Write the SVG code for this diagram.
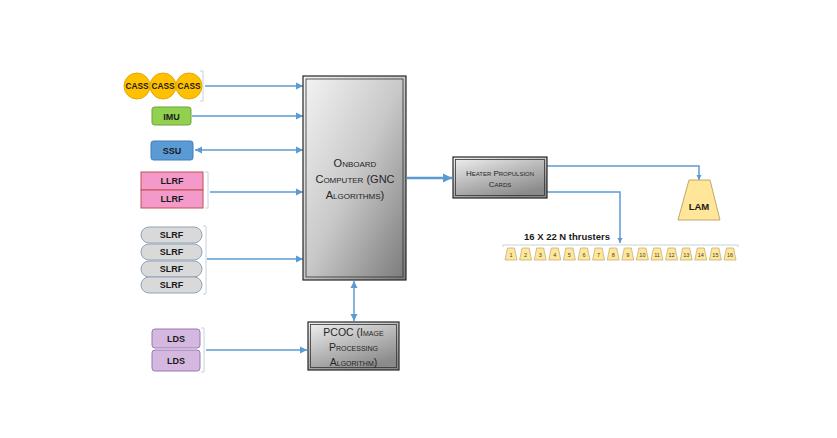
<svg xmlns="http://www.w3.org/2000/svg" width="837" height="438" viewBox="0 0 837 438">
<defs>
<marker id="ah" markerUnits="userSpaceOnUse" markerWidth="8" markerHeight="8" refX="7" refY="4" orient="auto-start-reverse"><path d="M0,0.5 L7,4 L0,7.5 Z" fill="#5B9BD5"/></marker>
<marker id="ahb" markerUnits="userSpaceOnUse" markerWidth="10" markerHeight="10" refX="9" refY="5" orient="auto"><path d="M0,0.5 L9,5 L0,9.5 Z" fill="#5B9BD5"/></marker>
<marker id="ahs" markerUnits="userSpaceOnUse" markerWidth="6" markerHeight="6" refX="5" refY="3" orient="auto-start-reverse"><path d="M0,0.5 L5,3 L0,5.5 Z" fill="#5B9BD5"/></marker>
<linearGradient id="gbox" x1="0" y1="0" x2="1" y2="1"><stop offset="0" stop-color="#F4F4F4"/><stop offset="0.5" stop-color="#C8C8C8"/><stop offset="1" stop-color="#7A7A7A"/></linearGradient>
<linearGradient id="gsm" x1="0" y1="0" x2="0.6" y2="1"><stop offset="0" stop-color="#F2F2F2"/><stop offset="0.5" stop-color="#BDBDBD"/><stop offset="1" stop-color="#8A8A8A"/></linearGradient>
</defs>
<style>
.conn{fill:none;stroke:#5B9BD5;stroke-width:1.5}
.br{fill:none;stroke:#C8D2DC;stroke-width:1}
.lbl{font-family:"Liberation Sans",Arial,sans-serif;font-weight:bold;font-size:9px;fill:#1A1A1A;text-anchor:middle}
.sc{font-family:"Liberation Sans",Arial,sans-serif;font-variant:small-caps;fill:#262626;text-anchor:middle}
.thr{fill:#FFE699;stroke:#BFA76F;stroke-width:0.7}
.num{font-family:"Liberation Sans",Arial,sans-serif;font-size:5.5px;fill:#404040;text-anchor:middle}
</style>
<rect width="837" height="438" fill="#FFFFFF"/>

<g id="connectors">
<path class="conn" d="M205,86 H303" marker-end="url(#ah)"/>
<path class="conn" d="M192,116 H303" marker-end="url(#ah)"/>
<path class="conn" d="M195,150 H303" marker-start="url(#ah)" marker-end="url(#ah)"/>
<path class="conn" d="M210,192 H303" marker-end="url(#ah)"/>
<path class="conn" d="M207,259 H303" marker-end="url(#ah)"/>
<path class="conn" d="M206,350 H307" marker-end="url(#ah)"/>
<path class="conn" d="M354,281 V321" marker-start="url(#ah)" marker-end="url(#ah)"/>
<path class="conn" style="stroke-width:2.5" d="M407,178 H452" marker-end="url(#ahb)"/>
<path class="conn" d="M547,166 H699 V180" marker-end="url(#ahs)"/>
<path class="conn" d="M547,192 H620 V243" marker-end="url(#ahs)"/>
</g>

<g id="cass">
<circle cx="137" cy="86" r="13" fill="#FFC000" stroke="#E6A800"/>
<circle cx="163" cy="86" r="13" fill="#FFC000" stroke="#E6A800"/>
<circle cx="189" cy="86" r="13" fill="#FFC000" stroke="#E6A800"/>
<text class="lbl" x="137" y="89" style="font-size:8.3px">CASS</text>
<text class="lbl" x="163" y="89" style="font-size:8.3px">CASS</text>
<text class="lbl" x="189" y="89" style="font-size:8.3px">CASS</text>
<path class="br" d="M200,71 H203 V101 H200"/>
</g>

<g id="imu">
<rect x="152" y="107" width="39" height="18" rx="2.5" fill="#92D050" stroke="#6FA33A"/>
<text class="lbl" x="171.5" y="119.5">IMU</text>
</g>

<g id="ssu">
<rect x="151" y="141" width="42" height="19" rx="2.5" fill="#5B9BD5" stroke="#3F7DB8"/>
<text class="lbl" x="172" y="153.5">SSU</text>
</g>

<g id="llrf">
<rect x="141" y="172" width="62" height="18" fill="#F49ACB" stroke="#C0504D"/>
<rect x="141" y="190" width="62" height="18" fill="#F49ACB" stroke="#C0504D"/>
<text class="lbl" x="172" y="184">LLRF</text>
<text class="lbl" x="172" y="202">LLRF</text>
<path class="br" d="M205,172 H208 V208 H205"/>
</g>

<g id="slrf">
<rect x="141" y="227" width="61" height="16" rx="8" fill="#D9D9D9" stroke="#8EA3B8"/>
<rect x="141" y="244" width="61" height="16" rx="8" fill="#D9D9D9" stroke="#8EA3B8"/>
<rect x="141" y="261" width="61" height="16" rx="8" fill="#D9D9D9" stroke="#8EA3B8"/>
<rect x="141" y="277" width="61" height="16" rx="8" fill="#D9D9D9" stroke="#8EA3B8"/>
<text class="lbl" x="171.5" y="238">SLRF</text>
<text class="lbl" x="171.5" y="255">SLRF</text>
<text class="lbl" x="171.5" y="272">SLRF</text>
<text class="lbl" x="171.5" y="288">SLRF</text>
<path class="br" d="M203,226 H206 V294 H203"/>
</g>

<g id="lds">
<rect x="152" y="329" width="48" height="19" rx="3" fill="#D5B8E0" stroke="#9A76B5"/>
<rect x="152" y="350" width="48" height="21" rx="3" fill="#D5B8E0" stroke="#9A76B5"/>
<text class="lbl" x="176" y="341.5">LDS</text>
<text class="lbl" x="176" y="363.5">LDS</text>
<path class="br" d="M201,328 H204 V372 H201"/>
</g>

<g id="onboard">
<rect x="303" y="76" width="103" height="204" fill="url(#gbox)" stroke="#262626" stroke-width="1.2"/>
<rect x="306" y="79" width="97" height="198" fill="none" stroke="#333333" stroke-width="0.8"/>
<text class="sc" x="355" y="167" style="font-size:11px">Onboard</text>
<text class="sc" x="355" y="183" style="font-size:11px">Computer (GNC</text>
<text class="sc" x="355" y="199" style="font-size:11px">Algorithms)</text>
</g>

<g id="pcoc">
<rect x="308" y="322" width="91" height="48" fill="url(#gsm)" stroke="#262626" stroke-width="1.2"/>
<rect x="310.5" y="324.5" width="86" height="43" fill="none" stroke="#333333" stroke-width="0.8"/>
<text class="sc" x="353.5" y="336" style="font-size:10.5px">PCOC (Image</text>
<text class="sc" x="353.5" y="351" style="font-size:10.5px">Processing</text>
<text class="sc" x="353.5" y="366" style="font-size:10.5px">Algorithm)</text>
</g>

<g id="heater">
<rect x="453" y="157" width="94" height="41" fill="url(#gsm)" stroke="#262626" stroke-width="1.2"/>
<rect x="455.5" y="159.5" width="89" height="36" fill="none" stroke="#333333" stroke-width="0.8"/>
<text class="sc" x="500" y="176" style="font-size:8px">Heater Propulsion</text>
<text class="sc" x="500" y="187" style="font-size:8px">Cards</text>
</g>

<g id="lam">
<path d="M689,180 H710 L720,220 H678 Z" fill="#FFE699" stroke="#BFA76F"/>
<text class="lbl" x="699" y="210" style="font-size:9.5px">LAM</text>
</g>

<g id="thrusters">
<text class="lbl" x="567" y="240" style="font-size:9.5px">16 X 22 N thrusters</text>
<path class="br" d="M503,247 V245 H738 V247"/>
<g transform="translate(505,0)">
<path class="thr" d="M0,260 L2.5,248 H9.5 L12,260 Z"/><text class="num" x="6" y="257">1</text>
<g transform="translate(14.6,0)"><path class="thr" d="M0,260 L2.5,248 H9.5 L12,260 Z"/><text class="num" x="6" y="257">2</text></g>
<g transform="translate(29.2,0)"><path class="thr" d="M0,260 L2.5,248 H9.5 L12,260 Z"/><text class="num" x="6" y="257">3</text></g>
<g transform="translate(43.8,0)"><path class="thr" d="M0,260 L2.5,248 H9.5 L12,260 Z"/><text class="num" x="6" y="257">4</text></g>
<g transform="translate(58.4,0)"><path class="thr" d="M0,260 L2.5,248 H9.5 L12,260 Z"/><text class="num" x="6" y="257">5</text></g>
<g transform="translate(73,0)"><path class="thr" d="M0,260 L2.5,248 H9.5 L12,260 Z"/><text class="num" x="6" y="257">6</text></g>
<g transform="translate(87.6,0)"><path class="thr" d="M0,260 L2.5,248 H9.5 L12,260 Z"/><text class="num" x="6" y="257">7</text></g>
<g transform="translate(102.2,0)"><path class="thr" d="M0,260 L2.5,248 H9.5 L12,260 Z"/><text class="num" x="6" y="257">8</text></g>
<g transform="translate(116.8,0)"><path class="thr" d="M0,260 L2.5,248 H9.5 L12,260 Z"/><text class="num" x="6" y="257">9</text></g>
<g transform="translate(131.4,0)"><path class="thr" d="M0,260 L2.5,248 H9.5 L12,260 Z"/><text class="num" x="6" y="257">10</text></g>
<g transform="translate(146,0)"><path class="thr" d="M0,260 L2.5,248 H9.5 L12,260 Z"/><text class="num" x="6" y="257">11</text></g>
<g transform="translate(160.6,0)"><path class="thr" d="M0,260 L2.5,248 H9.5 L12,260 Z"/><text class="num" x="6" y="257">12</text></g>
<g transform="translate(175.2,0)"><path class="thr" d="M0,260 L2.5,248 H9.5 L12,260 Z"/><text class="num" x="6" y="257">13</text></g>
<g transform="translate(189.8,0)"><path class="thr" d="M0,260 L2.5,248 H9.5 L12,260 Z"/><text class="num" x="6" y="257">14</text></g>
<g transform="translate(204.4,0)"><path class="thr" d="M0,260 L2.5,248 H9.5 L12,260 Z"/><text class="num" x="6" y="257">15</text></g>
<g transform="translate(219,0)"><path class="thr" d="M0,260 L2.5,248 H9.5 L12,260 Z"/><text class="num" x="6" y="257">16</text></g>
</g>
</g>
</svg>
